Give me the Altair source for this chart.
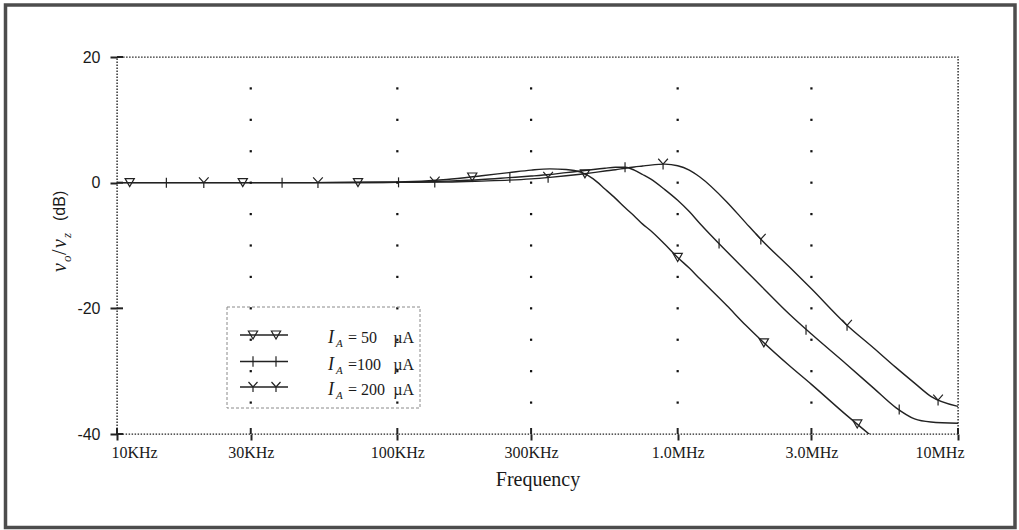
import altair as alt
import pandas as pd

# ---- data -----------------------------------------------------------------
# Frequency grid (Hz) of the simulated response
FREQ_HZ = [1e4, 2e4, 5e4, 1e5, 1.5e5, 2e5, 2.5e5, 3e5, 3.5e5, 4e5, 4.5e5, 5e5,
           5.5e5, 6e5, 6.5e5, 7e5, 7.5e5, 8e5, 9e5, 1e6, 1.1e6, 1.2e6, 1.5e6,
           1.75e6, 2e6, 2.5e6, 3e6, 4e6, 5e6, 6e6, 7e6, 8e6, 1e7]

# Gain vo/vz in dB for each bias current (None = below the plotted range)
GAIN_50UA = [0, 0, 0, 0.1, 0.5, 1.1, 1.6, 2.0, 2.2, 2.1, 1.7, 0.6,
             -1.0, -2.5, -4.0, -5.3, -6.6, -7.6, -9.8, -11.9, -13.6, -15.3, -19.6,
             -22.7, -25.2, -29.1, -32.1, -37.0, -40.6, None, None, None, None]
GAIN_100UA = [0, 0, 0, 0.05, 0.25, 0.5, 0.8, 1.05, 1.3, 1.6, 1.85, 2.1,
              2.3, 2.45, 2.45, 2.0, 1.3, 0.6, -1.1, -2.8, -4.6, -6.5, -11.0,
              -14.0, -16.6, -20.9, -24.1, -28.9, -32.7, -35.8, -37.6, -38.1, -38.3]
GAIN_200UA = [0, 0, 0, 0.05, 0.1, 0.25, 0.4, 0.6, 0.85, 1.1, 1.35, 1.6,
              1.85, 2.05, 2.3, 2.5, 2.65, 2.8, 2.95, 2.7, 2.0, 0.9, -3.1,
              -6.4, -9.2, -13.4, -16.9, -22.6, -26.3, -29.4, -31.9, -34.0, -35.6]

# Marker positions along each trace
MARK_50_F = [11.1e3, 28.1e3, 72.4e3, 185e3, 467e3, 1.0e6, 2.03e6, 4.37e6]
MARK_50_DB = [0, 0, 0, 0.9, 1.4, -11.9, -25.5, -38.4]
MARK_100_F = [15.0e3, 38.8e3, 101e3, 252e3, 649e3, 1.405e6, 2.87e6, 6.17e6]
MARK_100_DB = [0, 0, 0.05, 0.8, 2.45, -9.7, -23.4, -36.1]
MARK_200_F = [20.4e3, 52.1e3, 136e3, 345e3, 887e3, 1.98e6, 4.02e6, 8.49e6]
MARK_200_DB = [0, 0, 0.1, 0.85, 2.95, -9.0, -22.7, -34.6]

SERIES = ["50", "100", "200"]
LEGEND_VALUE = ["= 50", "=100", "= 200"]

XTICK_VALUES = [1e4, 3e4, 1e5, 3e5, 1e6, 3e6, 1e7]
XTICK_LABELS = ["10KHz", "30KHz", "100KHz", "300KHz", "1.0MHz", "3.0MHz", "10MHz"]
YTICK_VALUES = [-40, -20, 0, 20]
GRID_FREQ = [3e4, 1e5, 3e5, 1e6, 3e6]
GRID_DB = [-35, -30, -25, -20, -15, -10, -5, 0, 5, 10, 15]

# ---- tables ---------------------------------------------------------------
gains = {"50": GAIN_50UA, "100": GAIN_100UA, "200": GAIN_200UA}
lines = pd.DataFrame([
    {"series": s, "freq": f, "db": g}
    for s in SERIES for f, g in zip(FREQ_HZ, gains[s]) if g is not None
])
marks = pd.DataFrame(
    [{"series": "50", "freq": f, "db": d} for f, d in zip(MARK_50_F, MARK_50_DB)]
    + [{"series": "100", "freq": f, "db": d} for f, d in zip(MARK_100_F, MARK_100_DB)]
    + [{"series": "200", "freq": f, "db": d} for f, d in zip(MARK_200_F, MARK_200_DB)]
)
grid = pd.DataFrame([{"freq": f, "db": d} for f in GRID_FREQ for d in GRID_DB])
xticks = pd.DataFrame({"freq": XTICK_VALUES})
yticks = pd.DataFrame({"db": YTICK_VALUES})
one = pd.DataFrame({"k": [0]})

# ---- styling --------------------------------------------------------------
INK = "#222222"
TEXT = "#1a1a1a"
W, H = 841, 377
TRI = "triangle-down"
BAR = "M0,-1L0,1"
WYE = "M-0.9,-1L0,0L0.9,-1M0,0L0,1"
SHAPES = [TRI, BAR, WYE]
SIZES = [85, 115, 100]

xs = alt.Scale(type="log", domain=[1e4, 1e7], nice=False)
ys = alt.Scale(domain=[-40, 20], nice=False, zero=False)

label_expr = " : ".join(
    f"round(datum.value) == {int(v)} ? '{t}'" for v, t in zip(XTICK_VALUES, XTICK_LABELS)
) + " : ''"

x_axis = alt.Axis(values=XTICK_VALUES, labelExpr=label_expr, domain=False, grid=False,
                  ticks=True, tickSize=6, tickWidth=2, tickColor=INK,
                  labelFont="Liberation Serif", labelFontSize=16, labelColor=TEXT,
                  labelPadding=4, labelFlush=True, labelFlushOffset=6,
                  title="Frequency", titleFont="Liberation Serif", titleFontSize=20,
                  titleFontWeight="normal", titleColor=TEXT, titlePadding=9)
y_axis = alt.Axis(values=YTICK_VALUES, labelExpr="'' + datum.value", domain=False,
                  grid=False, ticks=True, tickSize=7, tickWidth=2, tickColor=INK,
                  labelFont="Liberation Sans", labelFontSize=16, labelColor=TEXT,
                  labelPadding=10, title=None)

curves = alt.Chart(lines).mark_line(
    color=INK, strokeWidth=1.4, interpolate="monotone", clip=True
).encode(
    x=alt.X("freq:Q", scale=xs, axis=x_axis),
    y=alt.Y("db:Q", scale=ys, axis=y_axis),
    detail="series:N",
)

markers = alt.Chart(marks).mark_point(
    filled=False, stroke=INK, strokeWidth=1.2, opacity=1
).encode(
    x=alt.X("freq:Q", scale=xs),
    y=alt.Y("db:Q", scale=ys),
    shape=alt.Shape("series:N", scale=alt.Scale(domain=SERIES, range=SHAPES), legend=None),
    size=alt.Size("series:N", scale=alt.Scale(domain=SERIES, range=SIZES), legend=None),
)

grid_dots = alt.Chart(grid).mark_square(size=5, color="#111", opacity=1).encode(
    x=alt.X("freq:Q", scale=xs),
    y=alt.Y("db:Q", scale=ys),
)

# inner halves of the axis ticks (so they cross the axis line)
x_inner = alt.Chart(xticks).mark_rule(color=INK, strokeWidth=2).encode(
    x=alt.X("freq:Q", scale=xs), y=alt.value(H - 6), y2=alt.value(H)
)
y_inner = alt.Chart(yticks).mark_rule(color=INK, strokeWidth=2).encode(
    y=alt.Y("db:Q", scale=ys), x=alt.value(0), x2=alt.value(6)
)


def txt(text, x, y, **kw):
    return alt.Chart(one).mark_text(text=text, **kw).encode(x=alt.value(x), y=alt.value(y))


# y-axis title  v_o / v_z (dB), built from pieces so the subscripts sit low
ytitle_style = dict(angle=270, align="left", baseline="alphabetic", color=TEXT)
y_title = [
    txt("v", -51, 215, font="Liberation Serif", fontStyle="italic", fontSize=20, **ytitle_style),
    txt("o", -46, 205, font="Liberation Serif", fontStyle="italic", fontSize=13, **ytitle_style),
    txt("/", -51, 198, font="Liberation Serif", fontSize=20, **ytitle_style),
    txt("v", -51, 191, font="Liberation Serif", fontStyle="italic", fontSize=20, **ytitle_style),
    txt("z", -46, 181, font="Liberation Serif", fontStyle="italic", fontSize=13, **ytitle_style),
    txt("(dB)", -52, 164, font="Liberation Sans", fontSize=16, **ytitle_style),
]

# legend box
legend_box = alt.Chart(one).mark_rect(
    fill="transparent", stroke="#8a8a8a", strokeWidth=1, strokeDash=[3, 2]
).encode(x=alt.value(110), x2=alt.value(303), y=alt.value(250), y2=alt.value(351))

legend_rows = [278, 304.5, 330]
legend_layers = [legend_box]
for row_y, shape, size, value in zip(legend_rows, SHAPES, SIZES, LEGEND_VALUE):
    legend_layers.append(
        alt.Chart(one).mark_rule(color=INK, strokeWidth=1.3).encode(
            x=alt.value(123), x2=alt.value(171), y=alt.value(row_y))
    )
    for mx in (136, 159):
        legend_layers.append(
            alt.Chart(one).mark_point(shape=shape, size=size, filled=False, stroke=INK,
                                      strokeWidth=1.2, opacity=1).encode(
                x=alt.value(mx), y=alt.value(row_y))
        )
    legend_layers.append(txt("I", 211, row_y + 8, font="Liberation Serif", fontStyle="italic",
                             fontSize=18, align="left", baseline="alphabetic", color=TEXT))
    legend_layers.append(txt("A", 219, row_y + 12, font="Liberation Serif", fontStyle="italic",
                             fontSize=11, align="left", baseline="alphabetic", color=TEXT))
    legend_layers.append(txt(value, 231, row_y + 8, font="Liberation Serif", fontSize=16,
                             align="left", baseline="alphabetic", color=TEXT))
    legend_layers.append(txt("µA", 297, row_y + 8, font="Liberation Serif", fontSize=16,
                             align="right", baseline="alphabetic", color=TEXT))

# outer frame around the figure
frame = alt.Chart(one).mark_rect(
    fill="transparent", stroke="#4d4d4d", strokeWidth=3.5
).encode(x=alt.value(-111.5), x2=alt.value(898), y=alt.value(-52), y2=alt.value(470.5))

chart = alt.layer(
    curves, frame, grid_dots, markers, x_inner, y_inner, *y_title, *legend_layers
).properties(
    width=W, height=H, autosize="none",
    padding={"left": 117, "top": 57, "right": 61, "bottom": 96},
    background="white",
).configure_view(
    stroke="#222", strokeDash=[1.5, 1.5], strokeWidth=1.4
)

chart.save("out.html", embed_options={"renderer": "svg", "actions": False})
